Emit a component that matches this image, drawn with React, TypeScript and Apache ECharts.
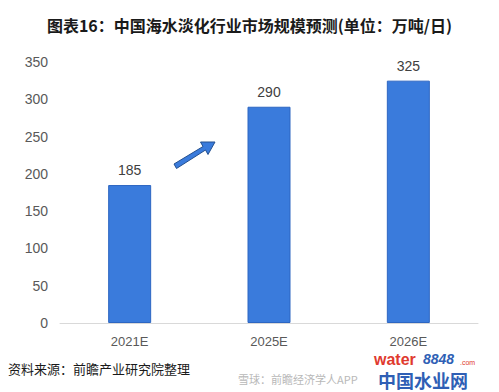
import React, { useEffect, useRef } from "react";
import * as echarts from "echarts";

const categories = ["2021E", "2025E", "2026E"];
const values = [185, 290, 325];
const yTicks = { min: 0, max: 350, interval: 50 };
const titleText = "图表16：中国海水淡化行业市场规模预测(单位：万吨/日)";
const sourceText = "资料来源：前瞻产业研究院整理";

export default function App() {
  const ref = useRef<HTMLDivElement>(null);
  useEffect(() => {
    document.body.style.margin = "0";
    const chart = echarts.init(ref.current!, null, { renderer: "svg" });
    const font = "'Liberation Sans', Arial, 'Noto Sans CJK SC', sans-serif";
    chart.setOption({
      animation: false,
      backgroundColor: "#ffffff",
      title: {
        text: titleText,
        left: "center",
        top: 12,
        textStyle: {
          fontSize: 16,
          fontWeight: "bold",
          color: "#1a1a1a",
          fontFamily: "'Noto Sans CJK SC', sans-serif",
        },
      },
      grid: { left: 60, right: 21, top: 62, bottom: 69, containLabel: false },
      xAxis: {
        type: "category",
        data: categories,
        axisLine: { lineStyle: { color: "#d9d9d9", width: 1 } },
        axisTick: { show: false },
        axisLabel: { color: "#595959", fontSize: 13, margin: 12, fontFamily: font },
      },
      yAxis: {
        type: "value",
        min: yTicks.min,
        max: yTicks.max,
        interval: yTicks.interval,
        axisLine: { show: false },
        axisTick: { show: false },
        splitLine: { show: false },
        axisLabel: { color: "#595959", fontSize: 14, margin: 12, fontFamily: font },
      },
      series: [
        {
          type: "bar",
          data: values,
          barWidth: 43,
          itemStyle: { color: "#3a7bdc", borderColor: "#2d66c2", borderWidth: 1 },
          label: {
            show: true,
            position: "top",
            distance: 8,
            color: "#404040",
            fontSize: 14,
            fontFamily: font,
          },
        },
      ],
      graphic: [
        {
          type: "polygon",
          shape: {
            points: [
              [174, 164],
              [203, 146.5],
              [200.5, 142],
              [215, 142],
              [208, 154.5],
              [205.5, 150],
              [176.5, 168.5],
            ],
          },
          style: { fill: "#3a7bdc", stroke: "#24508f", lineWidth: 1 },
        },
        {
          type: "text",
          left: 8,
          top: 362,
          style: {
            text: sourceText,
            fontSize: 13,
            fill: "#1a1a1a",
            fontFamily: "'Noto Sans CJK SC', sans-serif",
          },
        },
        {
          type: "text",
          x: 374,
          y: 351,
          style: {
            text: "water",
            fontSize: 16,
            fontWeight: "bold",
            fill: "#e03a2f",
            fontFamily: "'Liberation Sans', Arial, sans-serif",
          },
        },
        {
          type: "text",
          x: 423,
          y: 352,
          style: {
            text: "8848",
            fontSize: 14,
            fontStyle: "italic",
            fontWeight: "bold",
            fill: "#2f5fb5",
            fontFamily: "'Liberation Sans', Arial, sans-serif",
          },
        },
        {
          type: "text",
          x: 460,
          y: 359,
          style: { text: ".com", fontSize: 7, fill: "#e03a2f", fontFamily: "'Liberation Sans', Arial, sans-serif" },
        },
        {
          type: "text",
          x: 238,
          y: 373,
          style: {
            text: "雪球：前瞻经济学人APP",
            fontSize: 11,
            fill: "#b8b8b8",
            fontFamily: "'Noto Sans CJK SC', sans-serif",
          },
        },
        {
          type: "text",
          x: 378,
          y: 371,
          style: {
            text: "中国水业网",
            fontSize: 18,
            fontWeight: "bold",
            fill: "#2f5fb5",
            fontFamily: "'Noto Sans CJK SC', sans-serif",
          },
        },
      ],
    });
    return () => chart.dispose();
  }, []);
  return (
    <div
      ref={ref}
      style={{ position: "absolute", left: 0, top: 0, width: 499, height: 392 }}
    />
  );
}
